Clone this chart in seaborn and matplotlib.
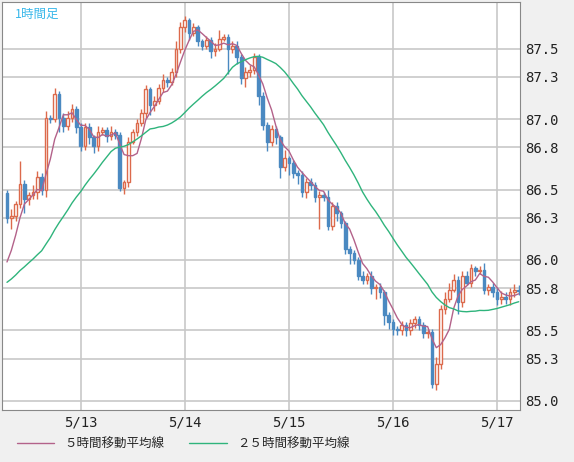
import numpy as np
import pandas as pd
import matplotlib
matplotlib.use("Agg")
import matplotlib.pyplot as plt
import seaborn as sns

# hourly closes (price), opens follow the previous close
first_open = 86.475
closes = [
    86.30, 86.31, 86.40, 86.54, 86.43, 86.46, 86.48, 86.59, 86.50, 87.01,
    87.00, 87.18, 87.01, 86.95, 87.01, 87.07, 86.94, 86.81, 86.94, 86.87,
    86.81, 86.91, 86.92, 86.88, 86.91, 86.89, 86.51, 86.55, 86.84, 86.91,
    86.97, 87.04, 87.21, 87.10, 87.13, 87.22, 87.28, 87.26, 87.33, 87.50,
    87.65, 87.70, 87.61, 87.65, 87.55, 87.52, 87.56, 87.48, 87.50, 87.57,
    87.58, 87.50, 87.52, 87.44, 87.29, 87.33, 87.35, 87.44, 87.16, 86.96,
    86.84, 86.93, 86.87, 86.66, 86.72, 86.69, 86.62, 86.60, 86.48, 86.55,
    86.53, 86.45, 86.46, 86.45, 86.24, 86.38, 86.33, 86.26, 86.08, 86.05,
    86.00, 85.89, 85.86, 85.89, 85.80, 85.81, 85.77, 85.61, 85.56, 85.51,
    85.50, 85.54, 85.50, 85.55, 85.58, 85.54, 85.48, 85.49, 85.12, 85.26,
    85.65, 85.72, 85.79, 85.86, 85.70, 85.89, 85.84, 85.94, 85.92, 85.93,
    85.79, 85.81, 85.77, 85.72, 85.74, 85.72, 85.77, 85.79, 85.78,
]
# wick lengths above / below the body
wick_up = [
    0.02, 0.05, 0.02, 0.16, 0.03, 0.02, 0.05, 0.04, 0.03, 0.05,
    0.02, 0.04, 0.02, 0.03, 0.05, 0.04, 0.02, 0.03, 0.03, 0.03,
    0.02, 0.04, 0.02, 0.02, 0.04, 0.02, 0.02, 0.02, 0.03, 0.02,
    0.03, 0.03, 0.03, 0.02, 0.03, 0.03, 0.04, 0.02, 0.03, 0.05,
    0.04, 0.03, 0.02, 0.03, 0.02, 0.02, 0.03, 0.02, 0.04, 0.06,
    0.02, 0.02, 0.03, 0.03, 0.02, 0.04, 0.03, 0.03, 0.02, 0.03,
    0.02, 0.03, 0.02, 0.02, 0.06, 0.02, 0.02, 0.02, 0.03, 0.03,
    0.03, 0.02, 0.03, 0.02, 0.05, 0.03, 0.03, 0.02, 0.02, 0.02,
    0.02, 0.02, 0.03, 0.02, 0.03, 0.02, 0.03, 0.02, 0.02, 0.02,
    0.02, 0.03, 0.02, 0.03, 0.02, 0.02, 0.02, 0.02, 0.02, 0.05,
    0.03, 0.05, 0.05, 0.04, 0.03, 0.03, 0.03, 0.03, 0.02, 0.03,
    0.05, 0.02, 0.03, 0.04, 0.04, 0.03, 0.03, 0.04, 0.03,
]
wick_dn = [
    0.04, 0.08, 0.03, 0.03, 0.10, 0.04, 0.03, 0.05, 0.04, 0.05,
    0.03, 0.02, 0.10, 0.04, 0.03, 0.03, 0.04, 0.04, 0.03, 0.05,
    0.05, 0.04, 0.02, 0.04, 0.03, 0.03, 0.02, 0.04, 0.03, 0.02,
    0.03, 0.02, 0.03, 0.07, 0.04, 0.02, 0.03, 0.03, 0.02, 0.03,
    0.03, 0.03, 0.05, 0.02, 0.03, 0.03, 0.02, 0.05, 0.03, 0.02,
    0.02, 0.18, 0.03, 0.05, 0.04, 0.06, 0.03, 0.03, 0.06, 0.04,
    0.07, 0.03, 0.05, 0.08, 0.03, 0.09, 0.04, 0.06, 0.03, 0.04,
    0.03, 0.04, 0.23, 0.03, 0.03, 0.03, 0.05, 0.03, 0.04, 0.08,
    0.03, 0.03, 0.03, 0.03, 0.04, 0.08, 0.04, 0.07, 0.05, 0.04,
    0.03, 0.03, 0.04, 0.03, 0.03, 0.04, 0.03, 0.03, 0.03, 0.04,
    0.03, 0.03, 0.02, 0.02, 0.08, 0.03, 0.02, 0.03, 0.03, 0.02,
    0.03, 0.04, 0.03, 0.04, 0.03, 0.03, 0.04, 0.03, 0.03,
]
# closes before the visible window, used to warm up the moving averages
prior_closes = [
    85.72, 85.70, 85.74, 85.78, 85.75, 85.80, 85.83, 85.79, 85.82, 85.85,
    85.80, 85.78, 85.83, 85.86, 85.82, 85.88, 85.85, 85.80, 85.84, 85.87,
    85.90, 85.86, 85.92, 85.95,
]
date_labels = ["5/13", "5/14", "5/15", "5/16", "5/17"]
date_tick_idx = [17, 41, 65, 89, 113]
price_ticks = [85.0, 85.3, 85.5, 85.8, 86.0, 86.3, 86.5, 86.8, 87.0, 87.3, 87.5]

UP = "#dc6a4c"
DOWN = "#4a89c1"
MA5_COL = "#b3628a"
MA25_COL = "#2fb47c"

n = len(closes)
opens = [first_open] + closes[:-1]
df = pd.DataFrame({"idx": np.arange(n), "open": opens, "close": closes})
df["high"] = df[["open", "close"]].max(axis=1) + np.array(wick_up)
df["low"] = df[["open", "close"]].min(axis=1) - np.array(wick_dn)
allc = pd.Series(prior_closes + closes)
df["ma5"] = allc.rolling(5).mean().iloc[len(prior_closes):].values
df["ma25"] = allc.rolling(25).mean().iloc[len(prior_closes):].values

sns.set_style("white")
plt.rcParams["font.family"] = ["DejaVu Sans Mono", "Noto Sans CJK JP"]

fig = plt.figure(figsize=(5.74, 4.62), dpi=100, facecolor="#f0f0f0")
ax = fig.add_axes([2 / 574, 52 / 462, 518 / 574, 408 / 462])
ax.set_facecolor("white")

for y in price_ticks:
    ax.axhline(y, color="#c8c8c8", lw=1.2, zorder=0)
for x in date_tick_idx:
    ax.axvline(x, color="#c8c8c8", lw=1.2, zorder=0)

for _, r in df.iterrows():
    up = r["close"] >= r["open"]
    col = UP if up else DOWN
    ax.vlines(r["idx"], r["low"], r["high"], color=col, lw=1, zorder=2)
    bottom = min(r["open"], r["close"])
    h = max(abs(r["close"] - r["open"]), 0.008)
    ax.bar(r["idx"], h, bottom=bottom, width=0.62,
           color="white" if up else col, edgecolor=col, lw=1, zorder=3)

sns.lineplot(data=df, x="idx", y="ma5", ax=ax, color=MA5_COL, lw=1, zorder=4)
sns.lineplot(data=df, x="idx", y="ma25", ax=ax, color=MA25_COL, lw=1, zorder=4)

ax.set_xlim(-1.15, 118.3)
ax.set_ylim(84.936, 87.83)
ax.set_xticks(date_tick_idx)
ax.set_xticklabels(date_labels)
ax.set_yticks(price_ticks)
ax.set_yticklabels([f"{p:.1f}" for p in price_ticks])
ax.yaxis.tick_right()
ax.tick_params(axis="both", length=0, labelsize=10, colors="#222222", pad=4)
ax.set_xlabel("")
ax.set_ylabel("")
for s in ax.spines.values():
    s.set_color("#888888")

ax.text(0.025, 0.985, "1時間足", transform=ax.transAxes, color="#3ab8ea",
        fontsize=9, va="top", ha="left", family=["Noto Sans CJK JP", "DejaVu Sans"])

handles = [plt.Line2D([], [], color=MA5_COL, lw=1),
           plt.Line2D([], [], color=MA25_COL, lw=1)]
fig.legend(handles, ["５時間移動平均線", "２５時間移動平均線"], loc="lower left",
           bbox_to_anchor=(0.01, 0.0), ncol=2, frameon=False, fontsize=9,
           handlelength=3, columnspacing=2,
           prop={"family": ["Noto Sans CJK JP", "DejaVu Sans"], "size": 9})

fig.savefig("out.png", dpi=100, facecolor=fig.get_facecolor())
